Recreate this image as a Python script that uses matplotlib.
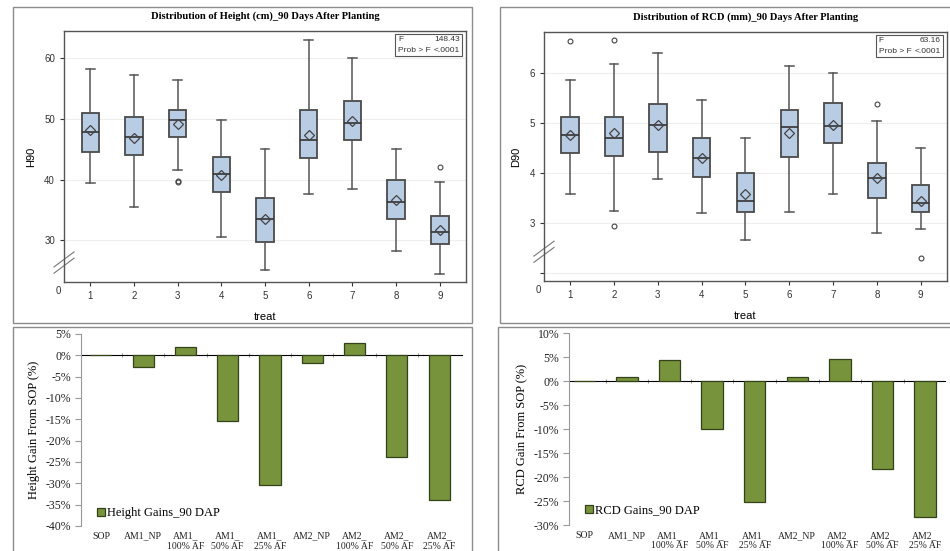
import matplotlib
matplotlib.use("Agg")
import matplotlib.pyplot as plt
from matplotlib.patches import Rectangle
from matplotlib.ticker import PercentFormatter

plt.rcParams["axes.unicode_minus"] = False

# --- distribution data (treat 1..9) ---
treat = [1, 2, 3, 4, 5, 6, 7, 8, 9]

h90_whislo = [39.5, 35.4, 41.5, 30.5, 25.0, 37.6, 38.5, 28.2, 24.5]
h90_q1 = [44.5, 44.0, 47.0, 37.9, 29.7, 43.6, 46.5, 33.5, 29.3]
h90_med = [47.9, 47.1, 49.9, 40.9, 33.5, 46.5, 49.3, 36.3, 31.3]
h90_mean = [48.2, 46.9, 49.2, 40.7, 33.5, 47.3, 49.6, 36.6, 31.7]
h90_q3 = [50.9, 50.4, 51.5, 43.8, 36.9, 51.4, 52.9, 39.9, 34.0]
h90_whishi = [58.2, 57.2, 56.5, 49.9, 45.0, 63.1, 60.0, 45.1, 39.6]
h90_fliers = [[], [], [39.8, 39.6], [], [], [], [], [], [42.0]]

d90_whislo = [3.58, 3.23, 3.87, 3.19, 2.66, 3.21, 3.57, 2.79, 2.87]
d90_q1 = [4.40, 4.34, 4.42, 3.92, 3.22, 4.32, 4.60, 3.50, 3.21]
d90_med = [4.77, 4.70, 4.97, 4.31, 3.44, 4.93, 4.95, 3.89, 3.39]
d90_mean = [4.76, 4.80, 4.97, 4.30, 3.58, 4.81, 4.97, 3.89, 3.44]
d90_q3 = [5.13, 5.13, 5.39, 4.70, 3.99, 5.27, 5.41, 4.20, 3.75]
d90_whishi = [5.86, 6.18, 6.41, 5.46, 4.70, 6.15, 6.01, 5.05, 4.50]
d90_fliers = [[6.64], [6.66, 2.93], [], [], [], [], [], [5.39], [2.30]]

# --- gains relative to SOP ---
categories = ["SOP", "AM1_NP", "AM1_\n100% AF", "AM1_\n50% AF", "AM1_\n25% AF",
              "AM2_NP", "AM2_\n100% AF", "AM2_\n50% AF", "AM2_\n25% AF"]
height_gain = [0.0, -0.027, 0.019, -0.155, -0.304, -0.019, 0.028, -0.239, -0.339]
rcd_gain = [0.0, 0.0083, 0.044, -0.100, -0.252, 0.010, 0.0465, -0.183, -0.282]

BOX_FILL = "#B8CCE4"
EDGE = "#4a4a4a"
BAR_GREEN = "#77933C"
SANS = "Liberation Sans"
SERIF = "Liberation Serif"


def box_stats(lo, q1, med, mean, q3, hi, fliers):
    return [dict(whislo=a, q1=b, med=c, mean=d, q3=e, whishi=f, fliers=g)
            for a, b, c, d, e, f, g in zip(lo, q1, med, mean, q3, hi, fliers)]


def panel_frame(fig, x0, y0, x1, y1):
    # pixel box -> figure fraction frame
    W, H = 950, 551
    fig.patches.append(Rectangle((x0 / W, 1 - y1 / H), (x1 - x0) / W, (y1 - y0) / H,
                                 transform=fig.transFigure, fill=False,
                                 edgecolor="#8c8c8c", linewidth=1.0))


def box_panel(ax, stats, title, ylabel, yticks, ylabels, ylim, fval, break_y):
    ax.bxp(stats, positions=treat, widths=0.4, patch_artist=True, showmeans=True,
           capwidths=0.2,
           boxprops=dict(facecolor=BOX_FILL, edgecolor=EDGE, linewidth=1.3),
           medianprops=dict(color="#333333", linewidth=1.2),
           whiskerprops=dict(color="#555555", linewidth=1.1),
           capprops=dict(color="#555555", linewidth=1.1),
           meanprops=dict(marker="D", markerfacecolor="none", markeredgecolor="#444444",
                          markersize=5.5, markeredgewidth=0.9),
           flierprops=dict(marker="o", markerfacecolor="none", markeredgecolor="#444444",
                           markersize=3.5, markeredgewidth=0.8))
    ax.set_xlim(0.4, 9.6)
    ax.set_ylim(*ylim)
    ax.set_yticks(yticks)
    ax.set_yticklabels(ylabels)
    ax.set_xticks(treat)
    ax.set_xticklabels([str(t) for t in treat])
    ax.grid(axis="y", color="#eeeeee", linewidth=0.8)
    ax.set_axisbelow(True)
    ax.tick_params(labelsize=7, colors="#333333", length=3, width=0.8)
    for s in ax.spines.values():
        s.set_color("#555555")
        s.set_linewidth(1.0)
    for lbl in ax.get_xticklabels() + ax.get_yticklabels():
        lbl.set_family(SANS)
    ax.set_xlabel("treat", family=SANS, fontsize=8, labelpad=8)
    ax.set_ylabel(ylabel, family=SANS, fontsize=8, labelpad=6)
    ax.set_title(title, family=SERIF, fontweight="bold", fontsize=7.6, pad=9)
    # axis break marks and the origin label
    for dy in (0.0, -0.025):
        ax.plot([-0.025, 0.025], [break_y[0] + dy, break_y[1] + dy], transform=ax.transAxes,
                color="#777777", linewidth=0.8, clip_on=False)
    ax.text(-0.008, -0.015, "0", transform=ax.transAxes, ha="right", va="top",
            family=SANS, fontsize=7, color="#333333")
    # ANOVA inset
    bx0, bx1, by0, by1 = 0.823, 0.990, 0.900, 0.988
    ax.add_patch(Rectangle((bx0, by0), bx1 - bx0, by1 - by0, transform=ax.transAxes,
                           fill=True, facecolor="white", edgecolor="#555555", linewidth=0.8,
                           zorder=5))
    rows = [("F", fval), ("Prob > F", "<.0001")]
    for i, (k, v) in enumerate(rows):
        yy = by1 - (i + 0.5) * (by1 - by0) / 2
        ax.text(bx0 + 0.008, yy, k, transform=ax.transAxes, ha="left", va="center",
                family=SANS, fontsize=6, color="#333333", zorder=6)
        ax.text(bx1 - 0.006, yy, v, transform=ax.transAxes, ha="right", va="center",
                family=SANS, fontsize=6, color="#333333", zorder=6)


def bar_panel(ax, values, ylabel, legend_label, ylim, yticks, xlim, legend_pos):
    x = list(range(len(categories)))
    ax.bar(x, values, width=0.5, color=BAR_GREEN, edgecolor="#34421a", linewidth=0.9,
           label=legend_label, zorder=3)
    ax.set_xlim(*xlim)
    ax.set_ylim(*ylim)
    ax.set_yticks(yticks)
    ax.yaxis.set_major_formatter(PercentFormatter(1.0, decimals=0))
    ax.set_xticks(x)
    ax.set_xticklabels(categories)
    ax.tick_params(axis="x", length=0, pad=4, labelsize=7)
    ax.tick_params(axis="y", length=4, width=0.8, color="#999999", labelsize=8.5, pad=3)
    for lbl in ax.get_xticklabels() + ax.get_yticklabels():
        lbl.set_family(SERIF)
        lbl.set_color("#222222")
    for side in ("top", "right", "bottom"):
        ax.spines[side].set_visible(False)
    ax.spines["left"].set_color("#999999")
    # category axis drawn through 0%
    zero_frac = (0 - ylim[0]) / (ylim[1] - ylim[0])
    sec = ax.secondary_xaxis(zero_frac)
    sec.set_xticks([i + 0.5 for i in x[:-1]])
    sec.set_xticklabels([])
    sec.tick_params(length=3, width=0.8, color="#999999", direction="inout")
    sec.spines["bottom"].set_color("#999999")
    ax.set_ylabel(ylabel, family=SERIF, fontsize=9, labelpad=4)
    ax.legend(loc="lower left", bbox_to_anchor=legend_pos, frameon=False,
              prop=dict(family=SERIF, size=9), handlelength=0.6, handleheight=0.6,
              handletextpad=0.2, borderaxespad=0)


fig = plt.figure(figsize=(9.5, 5.51), dpi=100)
fig.patch.set_facecolor("white")

panel_frame(fig, 13, 7, 472, 323)
panel_frame(fig, 500, 7, 952, 323)
panel_frame(fig, 13, 327, 472, 553)
panel_frame(fig, 498, 327, 952, 553)

ax1 = fig.add_axes([0.0674, 0.4882, 0.4232, 0.4555])
box_panel(ax1, box_stats(h90_whislo, h90_q1, h90_med, h90_mean, h90_q3, h90_whishi, h90_fliers),
          "Distribution of Height (cm)_90 Days After Planting", "H90",
          [30, 40, 50, 60], ["30", "40", "50", "60"], (23.1, 64.5), "148.43", (0.06, 0.12))

ax2 = fig.add_axes([0.5726, 0.4900, 0.4242, 0.4519])
box_panel(ax2, box_stats(d90_whislo, d90_q1, d90_med, d90_mean, d90_q3, d90_whishi, d90_fliers),
          "Distribution of RCD (mm)_90 Days After Planting", "D90",
          [2, 3, 4, 5, 6], ["", "3", "4", "5", "6"], (1.83, 6.83), "63.16", (0.10, 0.16))

ax3 = fig.add_axes([0.0853, 0.0454, 0.4010, 0.3485])
bar_panel(ax3, height_gain, "Height Gain From SOP (%)", "Height Gains_90 DAP",
          (-0.40, 0.05), [0.05, 0.0, -0.05, -0.10, -0.15, -0.20, -0.25, -0.30, -0.35, -0.40],
          (-0.47, 8.54), (0.03, 0.01))

ax4 = fig.add_axes([0.5990, 0.0466, 0.3958, 0.3485])
bar_panel(ax4, rcd_gain, "RCD Gain From SOP (%)", "RCD Gains_90 DAP",
          (-0.30, 0.10), [0.10, 0.05, 0.0, -0.05, -0.10, -0.15, -0.20, -0.25, -0.30],
          (-0.36, 8.47), (0.03, 0.02))

fig.savefig("out.png", dpi=100)
